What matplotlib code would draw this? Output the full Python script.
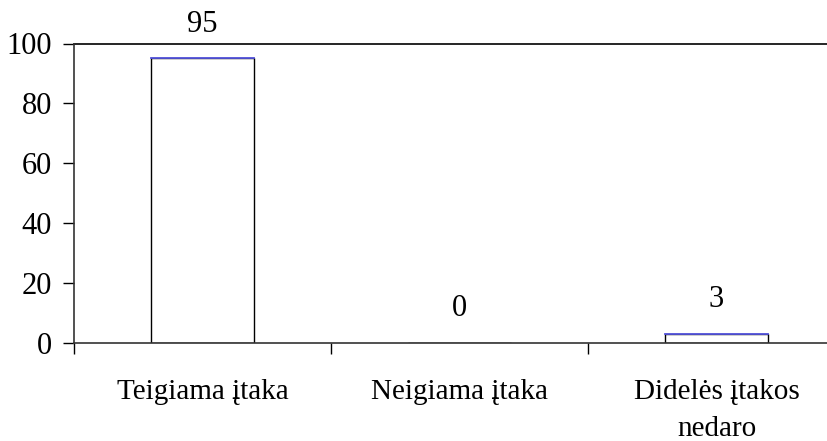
import numpy as np
import matplotlib
matplotlib.use('Agg')
import matplotlib.pyplot as plt

categories = ['Teigiama įtaka', 'Neigiama įtaka', 'Didelės įtakos\nnedaro']
values = [95, 0, 3]

plt.rcParams['font.family'] = ['Liberation Serif', 'DejaVu Serif']

fig = plt.figure(figsize=(8.28, 4.41), dpi=100)
# plot area runs slightly past the right edge of the picture, as in the original
ax = fig.add_axes([74 / 828, 98 / 441, 771 / 828, 299.5 / 441])

x_pos = np.arange(len(categories))
width = 0.4
rects = ax.bar(x_pos, values, width, color='white', edgecolor='black',
               linewidth=1.0, zorder=2)
# blue top edge of each bar
for r in rects:
    if r.get_height() > 0:
        ax.plot([r.get_x(), r.get_x() + r.get_width()],
                [r.get_height(), r.get_height()],
                color='#5555dd', linewidth=1.3, zorder=3)

# value labels
for xp, v in zip(x_pos, values):
    ax.text(xp, v + 11.5, str(v), ha='center', va='center', fontsize=22)

ax.set_xlim(-0.5, 2.5)
ax.set_ylim(0, 100)
ax.set_yticks(np.arange(0, 101, 20))
ax.tick_params(axis='y', direction='out', length=8, width=1, labelsize=22,
               pad=8)

# ticks between categories on the x axis
ax.set_xticks([-0.5, 0.5, 1.5, 2.5])
ax.set_xticklabels([])
ax.set_xticks(x_pos, minor=True)
ax.set_xticklabels(categories, minor=True, fontsize=21, linespacing=1.55,
                   va='top')
ax.tick_params(axis='x', which='major', direction='out', length=8, width=1)
ax.tick_params(axis='x', which='minor', length=0, pad=26)

ax.axhline(100, color='black', linewidth=1.2, zorder=1, clip_on=False)
for side in ['top', 'right']:
    ax.spines[side].set_visible(False)
ax.spines['left'].set_color('#333333')
ax.spines['bottom'].set_color('#333333')
ax.spines['left'].set_linewidth(1.2)
ax.spines['bottom'].set_linewidth(1.2)

fig.savefig('out.png', dpi=100)
